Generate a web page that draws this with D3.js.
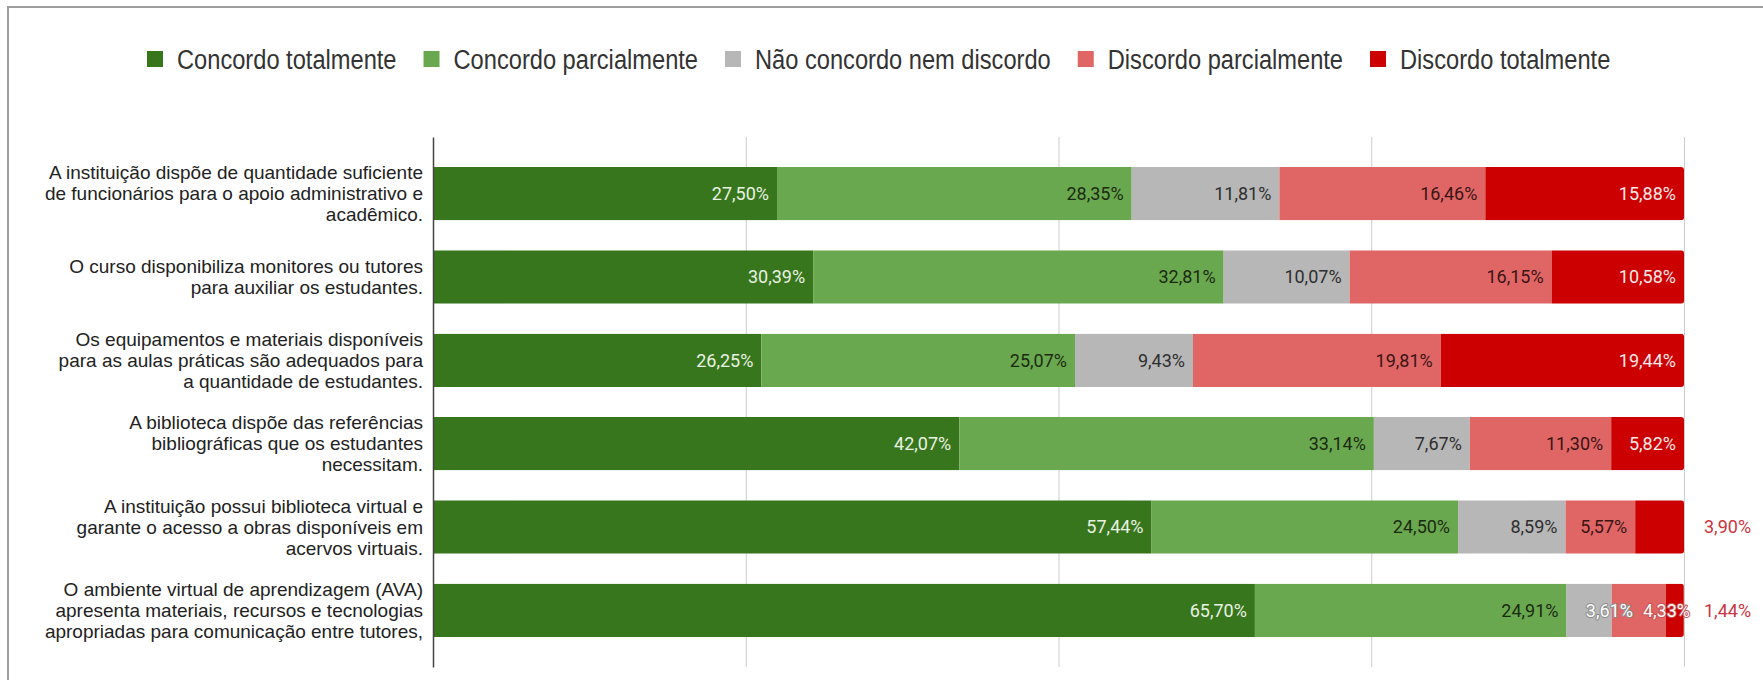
<!DOCTYPE html>
<html>
<head>
<meta charset="utf-8">
<script src="https://cdn.jsdelivr.net/npm/d3@7"></script>
<style>
  body { margin: 0; background: #fff; }
</style>
</head>
<body>
<script>
// categorias (cada uma quebrada em linhas como no gráfico)
var categories = [
  ["A instituição dispõe de quantidade suficiente", "de funcionários para o apoio administrativo e", "acadêmico."],
  ["O curso disponibiliza monitores ou tutores", "para auxiliar os estudantes."],
  ["Os equipamentos e materiais disponíveis", "para as aulas práticas são adequados para", "a quantidade de estudantes."],
  ["A biblioteca dispõe das referências", "bibliográficas que os estudantes", "necessitam."],
  ["A instituição possui biblioteca virtual e", "garante o acesso a obras disponíveis em", "acervos virtuais."],
  ["O ambiente virtual de aprendizagem (AVA)", "apresenta materiais, recursos e tecnologias", "apropriadas para comunicação entre tutores,"]
];

var seriesNames = ["Concordo totalmente", "Concordo parcialmente", "Não concordo nem discordo", "Discordo parcialmente", "Discordo totalmente"];

var concordoTotal   = [27.50, 30.39, 26.25, 42.07, 57.44, 65.70];
var concordoParcial = [28.35, 32.81, 25.07, 33.14, 24.50, 24.91];
var neutro          = [11.81, 10.07, 9.43, 7.67, 8.59, 3.61];
var discordoParcial = [16.46, 16.15, 19.81, 11.30, 5.57, 4.33];
var discordoTotal   = [15.88, 10.58, 19.44, 5.82, 3.90, 1.44];

var gridTicks = [25, 50, 75, 100];

var colors = ["#38761d", "#6aa84f", "#b7b7b7", "#e06666", "#cc0000"];
var labelColors = ["#e8f2e2", "#1b2b12", "#2e2e2e", "#3a1414", "#ffe8e8"];
var haloColors = ["#38761d", "#6aa84f", "#8c8c8c", "#c95050", "#cc0000"];

var w = 1763, h = 680;

var rows = categories.map(function(c, i) {
  return {
    i: i,
    v0: concordoTotal[i],
    v1: concordoParcial[i],
    v2: neutro[i],
    v3: discordoParcial[i],
    v4: discordoTotal[i]
  };
});
var keys = ["v0", "v1", "v2", "v3", "v4"];

var svg = d3.select("body")
  .append("svg")
  .attr("width", w)
  .attr("height", h)
  .style("font-family", "'Liberation Sans', Arial, sans-serif");

svg.append("rect").attr("width", w).attr("height", h).attr("fill", "#fff");

// moldura
svg.append("path")
  .attr("d", "M8," + h + "V7H" + w)
  .attr("fill", "none")
  .attr("stroke", "#9e9e9e")
  .attr("stroke-width", 2);

var x = d3.scaleLinear().domain([0, 100]).range([433, 1684]);
var y = d3.scaleBand().domain(d3.range(categories.length)).range([137, 667]).padding(0.36);

// grade
svg.append("g")
  .attr("transform", "translate(0,667)")
  .call(d3.axisBottom(x).tickValues(gridTicks).tickSize(-(667 - 137)).tickFormat(""))
  .call(function(g) {
    g.select(".domain").remove();
    g.selectAll(".tick line").attr("stroke", "#cccccc");
  });

// barras
var stack = d3.stack().keys(keys)(rows);

var defs = svg.append("defs");
rows.forEach(function(r, i) {
  var tot = d3.sum(keys, function(k) { return r[k]; });
  defs.append("clipPath").attr("id", "clip" + i)
    .append("rect")
    .attr("x", x(0) - 6)
    .attr("y", y(i))
    .attr("width", x(tot) - x(0) + 6)
    .attr("height", y.bandwidth())
    .attr("rx", 3);
});

var layers = svg.append("g").selectAll("g")
  .data(stack)
  .join("g")
  .attr("fill", function(d, j) { return colors[j]; });

layers.selectAll("rect")
  .data(function(d) { return d; })
  .join("rect")
  .attr("clip-path", function(d, i) { return "url(#clip" + i + ")"; })
  .attr("x", function(d) { return x(d[0]); })
  .attr("y", function(d, i) { return y(i); })
  .attr("width", function(d) { return x(d[1]) - x(d[0]); })
  .attr("height", y.bandwidth());

// eixo esquerdo
svg.append("g")
  .attr("transform", "translate(" + x(0) + ",0)")
  .call(d3.axisLeft(y).tickSize(0).tickSizeOuter(0).tickFormat(""))
  .call(function(g) {
    g.select(".domain").attr("stroke", "#444").attr("stroke-width", 1.5);
    g.selectAll(".tick").each(function(d) {
      var lines = categories[d];
      var lh = 21;
      var t = d3.select(this).append("text")
        .attr("x", -10)
        .attr("text-anchor", "end")
        .attr("fill", "#222")
        .style("font-family", "'Liberation Sans', Arial, sans-serif")
        .style("font-size", "19px");
      lines.forEach(function(l, k) {
        t.append("tspan")
          .attr("x", -10)
          .attr("y", (k - (lines.length - 1) / 2) * lh)
          .attr("dy", "0.35em")
          .text(l);
      });
    });
  });

// rótulos de valor
var fmt = function(v) { return d3.format(".2f")(v).replace(".", ",") + "%"; };
var pad = 8;
var labelG = svg.append("g")
  .style("font-family", "Roboto, sans-serif")
  .style("font-size", "18px");

rows.forEach(function(r, i) {
  var cy = y(i) + y.bandwidth() / 2;
  var end = x(100);
  var misfits = [];
  keys.forEach(function(k, j) {
    var seg = stack[j][i];
    var x0 = x(seg[0]), x1 = x(seg[1]);
    var t = labelG.append("text")
      .attr("y", cy)
      .attr("dy", "0.35em")
      .text(fmt(r[k]));
    var tw = t.node().getComputedTextLength();
    if (tw + 2 * pad <= x1 - x0) {
      t.attr("x", x1 - pad).attr("text-anchor", "end").attr("fill", labelColors[j]);
    } else if (j === keys.length - 1) {
      t.attr("x", end + 20).attr("text-anchor", "start").attr("fill", "#cc3340");
    } else {
      misfits.push({ t: t, j: j, tw: tw });
    }
  });
  // rótulos que não cabem: encadeados da direita para a esquerda
  var right = end + 6;
  misfits.reverse().forEach(function(m) {
    m.t.attr("x", right).attr("text-anchor", "end")
      .attr("fill", "#fff")
      .attr("stroke", haloColors[m.j])
      .attr("stroke-width", 2)
      .attr("stroke-linejoin", "round")
      .attr("paint-order", "stroke");
    right = right - m.tw - 10;
  });
});

// legenda (fonte condensada na horizontal)
var legend = svg.append("g")
  .style("font-family", "'Liberation Sans', Arial, sans-serif")
  .style("font-size", "28px");

var squeeze = 0.845;
var lx = 147;
seriesNames.forEach(function(name, j) {
  legend.append("rect")
    .attr("x", lx).attr("y", 51)
    .attr("width", 16).attr("height", 16)
    .attr("fill", colors[j]);
  var t = legend.append("text")
    .attr("transform", "translate(" + (lx + 30) + ",59) scale(" + squeeze + ",1)")
    .attr("dy", "0.35em")
    .attr("fill", "#333")
    .text(name);
  lx = lx + 30 + t.node().getComputedTextLength() * squeeze + 27;
});
</script>
</body>
</html>
